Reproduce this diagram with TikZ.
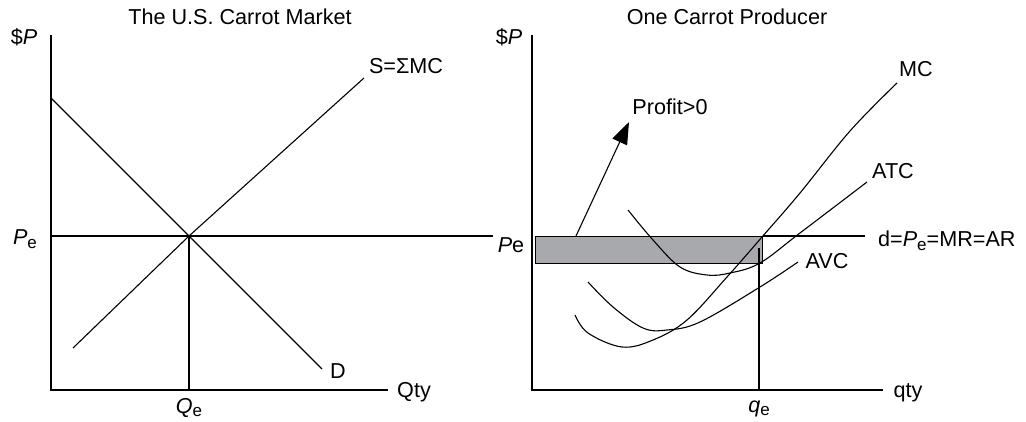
\documentclass[tikz,border=0pt]{standalone}
\usepackage{fontspec}
\setmainfont{Liberation Sans}
\usetikzlibrary{arrows.meta}
\definecolor{rectgray}{HTML}{A7A9AC}
\newcommand{\subE}{\raisebox{-0.35ex}{\fontsize{17}{19}\selectfont e}}
\begin{document}
\begin{tikzpicture}[x=1pt,y=-1pt,
  lbl/.style={anchor=base,inner sep=0pt,font=\fontsize{21.6}{25}\selectfont},
  axis/.style={line width=1.5pt},
  curve/.style={line width=1.1pt}]
\useasboundingbox (0,0) rectangle (1026,422);
% ---------- left panel ----------
\node[lbl] (t1) at (240,25) {The U.S. Carrot Market};
\node[lbl] (p1) at (24,45) {\$\textit{P}};
\coordinate (ly) at (51,35);
\coordinate (lo) at (51,390);
\coordinate (lx) at (388,390);
\draw[axis] (ly) -- (lo) -- (lx);
\coordinate (E) at (189,236);
\coordinate (d0) at (51,98);
\coordinate (d1) at (322,369);
\coordinate (s0) at (73,348);
\coordinate (s1) at (364,78);
\draw[curve] (d0) -- (d1);
\draw[curve] (s0) -- (E) -- (s1);
\coordinate (pl0) at (51,236);
\coordinate (pl1) at (493,236);
\draw[curve] (pl0) -- (pl1);
\coordinate (qb) at (189,390);
\draw[curve] (E) -- (qb);
\node[lbl] (Pe1) at (25,245) {\textit{P}\subE};
\node[lbl] (Qe) at (189,413) {\textit{Q}\subE};
\node[lbl] (Qty) at (414,397) {Qty};
\node[lbl] (D) at (338,378) {D};
\node[lbl] (S) at (406,74) {S=ΣMC};
% ---------- right panel ----------
\node[lbl] (t2) at (727,25) {One Carrot Producer};
\node[lbl] (p2) at (509,45) {\$\textit{P}};
\coordinate (ry) at (532,35);
\coordinate (ro) at (532,390);
\coordinate (rx) at (883,390);
\draw[axis] (ry) -- (ro) -- (rx);
\node[lbl] (Pe2) at (511,253) {\textit{P}e};
\node[draw,line width=1.2pt,fill=rectgray,minimum width=227pt,minimum height=27pt,inner sep=0pt,anchor=north west] (R) at (535,236) {};
\coordinate (dl1) at (865,236);
\draw[curve] (R.north east) -- (dl1);
\coordinate (qt) at (759,248);
\coordinate (qbb) at (759,390);
\draw[curve] (qt) -- (qbb);
\node[lbl,anchor=base west] (dlab) at (878,247) {d=\textit{P}\subE=MR=AR};
\node[lbl] (qe) at (759,412) {\textit{q}\subE};
\node[lbl] (qty) at (908,397) {qty};
% profit arrow
\coordinate (a0) at (576,236);
\coordinate (a1) at (629,122);
\draw[curve,-{Triangle[length=22pt,width=16pt]}] (a0) -- (a1);
\node[lbl] (prof) at (670,115) {Profit>0};
% cost curves
\draw[curve] plot[smooth,tension=0.6] coordinates {(575,315) (588,333) (622,347) (653,340) (687,320) (727,277) (762,237) (800,193) (850,131) (897,83)};
\draw[curve] plot[smooth,tension=0.6] coordinates {(628,210) (653,240) (680,267) (707,275) (730,273) (760,263) (800,233) (867,182)};
\draw[curve] plot[smooth,tension=0.6] coordinates {(588,282) (613,307) (643,328) (667,330) (700,322) (760,287) (798,262)};
\node[lbl] (MC) at (916,77) {MC};
\node[lbl] (ATC) at (893,179) {ATC};
\node[lbl] (AVC) at (827,269) {AVC};
\end{tikzpicture}
\end{document}
